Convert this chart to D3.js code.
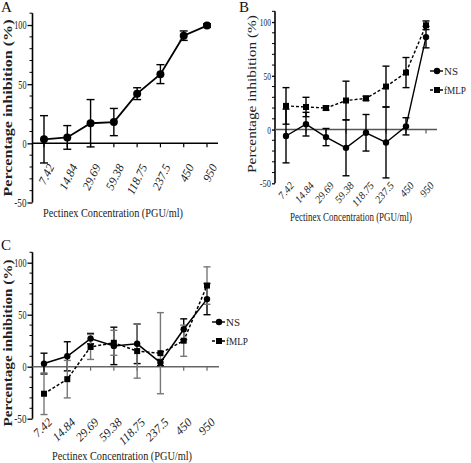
<!DOCTYPE html>
<html><head><meta charset="utf-8">
<script src="https://cdn.jsdelivr.net/npm/d3@7"></script>
<style>body{margin:0;background:#fff}svg{display:block}text{font-family:"Liberation Serif","Times New Roman",serif}</style>
</head><body>
<script>
const categories = ["7.42","14.84","29.69","59.38","118.75","237.5","450","950"];
const yTicks = [-50, 0, 50, 100];
const yTickLabels = ["-50", "0", "50", "100"];
const seriesNames = ["NS", "fMLP"];
// Panel A
const aMean = [3.4, 5, 17, 18, 42, 58.5, 91, 99.5];
const aErr  = [20, 10, 20, 11.5, 5, 8, 4, 1.5];
// Panel B
const bNS     = [-6, 5, -7, -17, -3, -12, 3, 86];
const bNSErr  = [25, 11, 8, 26, 17, 33, 8, 10];
const bF      = [22, 21, 20, 27, 29, 40, 53, 97];
const bFErr   = [17, 9, 2, 18, 2, 19, 14, 4];
// Panel C
const cNS     = [3, 10, 27, 20, 22, 4, 36, 65];
const cNSErr  = [10, 14, 5, 18, 19, 3, 10, 15];
const cF      = [-26, -12, 19, 23, 15, 13, 25, 78];
const cFErr   = [20, 18, 12, 12, 26, 39, 15, 18];

const W = 471, H = 463;
const svg = d3.select("body").append("svg").attr("width", W).attr("height", H);

function panel(cfg) {
  const g = svg.append("g");
  const y = d3.scaleLinear().domain([-50, 110]).range([cfg.yBottom, cfg.yTop]);
  const x = d3.scalePoint().domain(categories).range([cfg.x0, cfg.x1]);
  // y axis
  const yAx = g.append("g").attr("transform", `translate(${cfg.axisX},0)`)
    .call(d3.axisLeft(y).tickValues(yTicks).tickSize(cfg.yTickLen).tickPadding(1)
      .tickFormat((d, i) => yTickLabels[i]));
  yAx.select(".domain").attr("stroke", "#000").attr("stroke-width", 1.6).attr("d", `M0,${y(110)}V${y(-50)}`);
  yAx.selectAll(".tick line").attr("stroke-width", 1.3);
  yAx.selectAll(".tick text").attr("font-size", cfg.yTickFont).attr("fill", "#222")
    .attr("textLength", (d, i) => yTickLabels[i].length * cfg.yTickFont * 0.34).attr("lengthAdjust", "spacingAndGlyphs");
  // minor ticks
  g.append("g").selectAll("line").data(d3.range(-50, 111, 10).filter(v => !yTicks.includes(v)))
    .join("line").attr("x1", cfg.axisX - 3).attr("x2", cfg.axisX).attr("y1", d => y(d)).attr("y2", d => y(d))
    .attr("stroke", "#000").attr("stroke-width", 1);
  // zero line
  g.append("line").attr("x1", cfg.axisX).attr("x2", cfg.xEnd).attr("y1", y(0)).attr("y2", y(0))
    .attr("stroke", cfg.zeroColor).attr("stroke-width", 1.5);
  // x ticks
  g.append("g").selectAll("line").data(categories).join("line")
    .attr("x1", d => x(d)).attr("x2", d => x(d)).attr("y1", y(0)).attr("y2", y(0) + 4)
    .attr("stroke", cfg.zeroColor).attr("stroke-width", 1.2);
  // x tick labels
  g.append("g").selectAll("text").data(categories).join("text")
    .attr("transform", d => `translate(${x(d) + 3},${cfg.labelY}) rotate(${-cfg.labelAngle})`)
    .attr("text-anchor", "end").attr("dy", "0.7em").attr("font-size", cfg.xTickFont)
    .attr("font-style", "italic").attr("fill", "#222").text(d => d);
  // axis titles
  g.append("text").attr("x", cfg.xTitleX).attr("y", cfg.xTitleY).attr("text-anchor", "middle")
    .attr("font-size", 13).attr("fill", "#222").attr("textLength", cfg.xTitleLen).attr("lengthAdjust", "spacingAndGlyphs")
    .text("Pectinex Concentration (PGU/ml)");
  g.append("text").attr("transform", `translate(${cfg.yTitleX},${cfg.yTitleY}) rotate(-90)`)
    .attr("text-anchor", "middle").attr("font-size", cfg.yTitleFont).attr("font-weight", cfg.yTitleWeight)
    .attr("fill", "#222").attr("textLength", cfg.yTitleLen).attr("lengthAdjust", "spacingAndGlyphs")
    .text("Percentage inhibition (%)");
  g.append("text").attr("x", cfg.letterX).attr("y", cfg.letterY).attr("font-size", 15).attr("fill", "#111")
    .text(cfg.letter);

  cfg.series.forEach(s => {
    const pts = categories.map((c, i) => ({c, v: s.mean[i], e: s.err[i]}));
    const eg = g.append("g").attr("stroke", s.errColor).attr("stroke-width", 1.4);
    eg.selectAll(".v").data(pts).join("line").attr("x1", d => x(d.c)).attr("x2", d => x(d.c))
      .attr("y1", d => y(d.v + d.e)).attr("y2", d => y(d.v - d.e));
    eg.selectAll(".t").data(pts).join("line").attr("x1", d => x(d.c) - cfg.cap).attr("x2", d => x(d.c) + cfg.cap)
      .attr("y1", d => y(d.v + d.e)).attr("y2", d => y(d.v + d.e));
    eg.selectAll(".b").data(pts).join("line").attr("x1", d => x(d.c) - cfg.cap).attr("x2", d => x(d.c) + cfg.cap)
      .attr("y1", d => y(d.v - d.e)).attr("y2", d => y(d.v - d.e));
  });
  cfg.series.forEach(s => {
    const pts = categories.map((c, i) => ({c, v: s.mean[i]}));
    g.append("path").datum(pts).attr("fill", "none").attr("stroke", "#000").attr("stroke-width", cfg.lineW)
      .attr("stroke-dasharray", s.dash || null)
      .attr("d", d3.line().x(d => x(d.c)).y(d => y(d.v)));
    if (s.shape === "circle") {
      g.append("g").selectAll("circle").data(pts).join("circle").attr("cx", d => x(d.c)).attr("cy", d => y(d.v))
        .attr("r", cfg.r).attr("fill", "#000");
    } else {
      g.append("g").selectAll("rect").data(pts).join("rect").attr("x", d => x(d.c) - cfg.sq / 2)
        .attr("y", d => y(d.v) - cfg.sq / 2).attr("width", cfg.sq).attr("height", cfg.sq).attr("fill", "#000");
    }
  });
  if (cfg.legend) {
    cfg.series.forEach((s, i) => {
      const ly = cfg.legend.y + i * cfg.legend.dy;
      g.append("line").attr("x1", cfg.legend.x - 7).attr("x2", cfg.legend.x + 6).attr("y1", ly).attr("y2", ly)
        .attr("stroke", "#000").attr("stroke-width", 1.4).attr("stroke-dasharray", s.dash || null);
      if (s.shape === "circle") g.append("circle").attr("cx", cfg.legend.x).attr("cy", ly).attr("r", cfg.r);
      else g.append("rect").attr("x", cfg.legend.x - cfg.sq / 2).attr("y", ly - cfg.sq / 2).attr("width", cfg.sq).attr("height", cfg.sq);
      g.append("text").attr("x", cfg.legend.x + 7).attr("y", ly).attr("dy", "0.35em").attr("font-size", 10.5)
        .attr("fill", "#222").attr("textLength", s.name.length === 2 ? 14 : 22).attr("lengthAdjust", "spacingAndGlyphs")
        .text(s.name);
    });
  }
}

panel({
  letter: "A", letterX: 1, letterY: 12,
  axisX: 32.5, x0: 44, x1: 207, xEnd: 218, yTop: 13.2, yBottom: 202.5, yTickLen: 5,
  zeroColor: "#000", yTickFont: 12, xTickFont: 12, labelY: 163, labelAngle: 64,
  xTitleX: 113, xTitleY: 217, xTitleLen: 140,
  yTitleX: 12, yTitleY: 108, yTitleFont: 12.5, yTitleWeight: "bold", yTitleLen: 177,
  cap: 4, r: 4, sq: 7, lineW: 1.8,
  series: [{name: "NS", mean: aMean, err: aErr, shape: "circle", errColor: "#000"}]
});
panel({
  letter: "B", letterX: 239, letterY: 12,
  axisX: 275, x0: 286, x1: 426, xEnd: 437, yTop: 11.3, yBottom: 183.3, yTickLen: 3,
  zeroColor: "#555", yTickFont: 11, xTickFont: 10.5, labelY: 181, labelAngle: 50,
  xTitleX: 351, xTitleY: 221, xTitleLen: 122,
  yTitleX: 256, yTitleY: 94, yTitleFont: 12, yTitleWeight: "normal", yTitleLen: 158,
  cap: 3.5, r: 3.2, sq: 6, lineW: 1.4,
  series: [
    {name: "NS", mean: bNS, err: bNSErr, shape: "circle", errColor: "#000"},
    {name: "fMLP", mean: bF, err: bFErr, shape: "square", dash: "3,2", errColor: "#000"}
  ],
  legend: {x: 437, y: 71, dy: 19}
});
panel({
  letter: "C", letterX: 1, letterY: 250,
  axisX: 32.5, x0: 44, x1: 207, xEnd: 219, yTop: 252.3, yBottom: 418.7, yTickLen: 5,
  zeroColor: "#666", yTickFont: 12, xTickFont: 12, labelY: 417, labelAngle: 45,
  xTitleX: 122, xTitleY: 460, xTitleLen: 140,
  yTitleX: 12, yTitleY: 343, yTitleFont: 12.5, yTitleWeight: "bold", yTitleLen: 167,
  cap: 3.5, r: 3.2, sq: 6, lineW: 1.5,
  series: [
    {name: "NS", mean: cNS, err: cNSErr, shape: "circle", errColor: "#000"},
    {name: "fMLP", mean: cF, err: cFErr, shape: "square", dash: "3,2", errColor: "#777"}
  ],
  legend: {x: 219, y: 322, dy: 19}
});
</script>
</body></html>
